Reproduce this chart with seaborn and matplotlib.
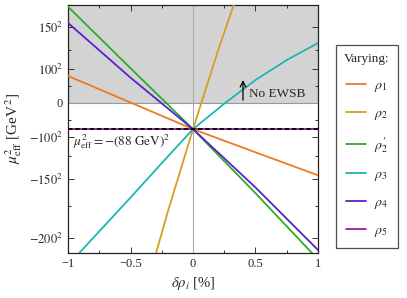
import numpy as np
import pandas as pd
import matplotlib
matplotlib.use("Agg")
import matplotlib.pyplot as plt
import seaborn as sns

# values (x in %, y in GeV^2)
mu2 = -88 ** 2
x_rho1 = [-1, -0.5, 0, 0.5, 1]
y_rho1 = [8000, 150, mu2, -14600, -21400]
x_rho2 = [-0.4, -0.2, 0, 0.2, 0.4]
y_rho2 = [-58000, -32000, mu2, 15500, 37000]
x_rho2p = [-1, -0.5, 0, 0.5, 1]
y_rho2p = [28500, 10300, mu2, -26700, -46300]
x_rho3 = [-1, -0.75, -0.5, -0.25, 0, 0.25, 0.5, 0.75, 1]
y_rho3 = [-48000, -38000, -28000, -17800, mu2, -200, 6800, 12700, 17750]
x_rho4 = [-1, -0.5, 0, 0.5, 1]
y_rho4 = [23700, 7500, mu2, -25000, -43500]
x_rho5 = [-1, 0, 1]
y_rho5 = [mu2, mu2, mu2]

labels = [r"$\rho_1$", r"$\rho_2$", r"$\rho_2^{\mathbf{\prime}}$", r"$\rho_3$", r"$\rho_4$", r"$\rho_5$"]
colors = ["#EE7A22", "#D4A020", "#2AAE2A", "#1EB5B0", "#5A22C8", "#9A1E98"]

ytick_vals = [150, 100, 0, -100, -150, -200]
ytick_text = [r"$150^2$", r"$100^2$", "0", r"$-100^2$", r"$-150^2$", r"$-200^2$"]
yminor_vals = [125, 70, -70, -125, -175]

frames = []
for lab, xs, ys in zip(labels,
                       [x_rho1, x_rho2, x_rho2p, x_rho3, x_rho4, x_rho5],
                       [y_rho1, y_rho2, y_rho2p, y_rho3, y_rho4, y_rho5]):
    frames.append(pd.DataFrame({"x": xs, "y": ys, "var": lab}))
df = pd.concat(frames, ignore_index=True)

sns.set_style("ticks")
plt.rcParams["font.family"] = ["Liberation Serif", "DejaVu Serif"]
plt.rcParams["mathtext.fontset"] = "stix"

fig = plt.figure(figsize=(4.07, 2.98), dpi=100)
ax = fig.add_axes([68 / 407, 1 - 253 / 298, 250 / 407, 248 / 298])

ylo, yhi = -44400, 29000
ax.axhspan(0, yhi, color="#d3d3d3", zorder=0, lw=0)
ax.axhline(0, color="#999999", lw=0.8, zorder=1)
ax.axvline(0, color="#aaaaaa", lw=0.8, zorder=1)

sns.lineplot(data=df, x="x", y="y", hue="var", palette=colors, sort=False,
             lw=1.3, ax=ax, legend=False, zorder=3)
ax.axhline(mu2, color="k", lw=1.3, dashes=(2.5, 1.5), zorder=4)

ax.set_xlim(-1, 1)
ax.set_ylim(ylo, yhi)
ax.set_xticks([-1, -0.5, 0, 0.5, 1])
ax.set_xticklabels(["\u22121", "\u22120.5", "0", "0.5", "1"])
ax.set_xticks([-0.75, -0.25, 0.25, 0.75], minor=True)
ax.set_yticks([np.sign(v) * v ** 2 for v in ytick_vals])
ax.set_yticklabels(ytick_text)
ax.set_yticks([np.sign(v) * v ** 2 for v in yminor_vals], minor=True)
ax.tick_params(which="both", direction="in", top=True, right=True,
               labelsize=9, width=0.7, color="#333333")
ax.tick_params(which="major", length=4)
ax.tick_params(which="minor", length=2)
for s in ax.spines.values():
    s.set_linewidth(0.9)
    s.set_color("#222222")

ax.set_xlabel(r"$\delta\rho_i$ [%]", fontsize=10.5, labelpad=4)
ax.set_ylabel(r"$\mu^2_{\rm eff}$ [GeV$^2$]", fontsize=11, labelpad=4)

ax.text(-0.96, -8700, r"$\mu^2_{\rm eff} = -(88\ {\rm GeV})^2$", fontsize=9.5,
        va="top", ha="left")
ax.annotate("", xy=(0.4, 7600), xytext=(0.4, 0),
            arrowprops=dict(arrowstyle="->", color="k", lw=0.9))
ax.text(0.45, 2600, "No EWSB", fontsize=9.5, va="center", ha="left")

handles = [plt.Line2D([], [], color=c, lw=1.3) for c in colors]
leg = fig.legend(handles, labels, title="Varying:", loc="upper left",
                 bbox_to_anchor=(336 / 407, 1 - 45 / 298), fontsize=10,
                 title_fontsize=9.5, frameon=True, fancybox=False,
                 handlelength=1.4, handletextpad=0.6, labelspacing=0.95,
                 borderpad=0.6, borderaxespad=0)
leg.get_frame().set_edgecolor("#222222")
leg.get_frame().set_linewidth(0.9)

fig.savefig("out.png", dpi=100)
